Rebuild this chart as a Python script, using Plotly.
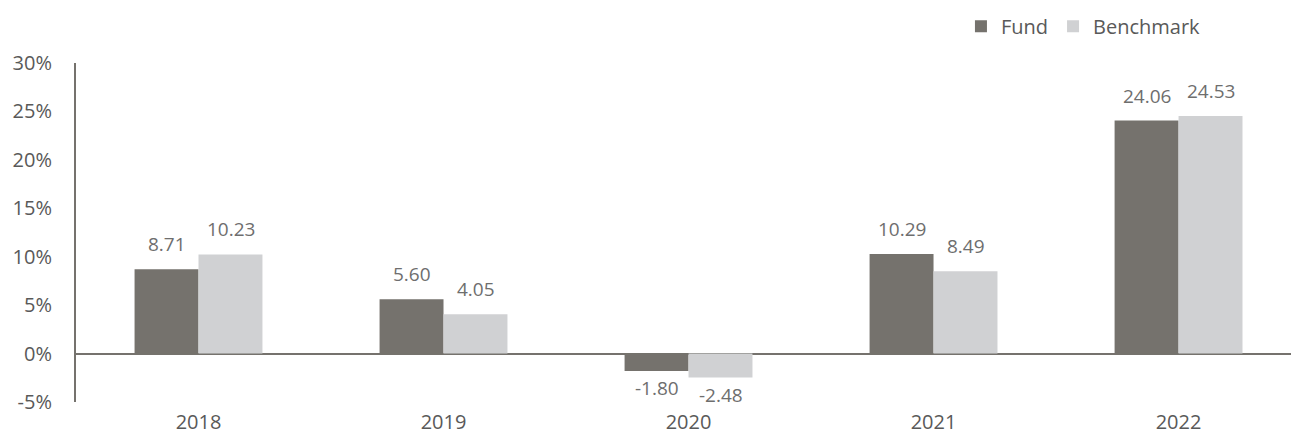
import plotly.graph_objects as go

years = ["2018", "2019", "2020", "2021", "2022"]
fund = [8.71, 5.60, -1.80, 10.29, 24.06]
benchmark = [10.23, 4.05, -2.48, 8.49, 24.53]
y_ticks = [-5, 0, 5, 10, 15, 20, 25, 30]
y_tick_labels = ["-5%", "0%", "5%", "10%", "15%", "20%", "25%", "30%"]

FUND_COLOR = "#75726d"
BENCH_COLOR = "#d0d1d3"
TEXT_COLOR = "#595959"
LABEL_COLOR = "#6e6e6e"
FONT = "Open Sans"
FS = 20

fig = go.Figure()
fig.add_trace(go.Bar(name="Fund", x=years, y=fund, marker=dict(color=FUND_COLOR, line=dict(width=0))))
fig.add_trace(go.Bar(name="Benchmark", x=years, y=benchmark, marker=dict(color=BENCH_COLOR, line=dict(width=0))))

for series, shift in ((fund, -32), (benchmark, 32)):
    for i, v in enumerate(series):
        fig.add_annotation(
            x=i, y=v, xref="x", yref="y", text=f"{v:.2f}", showarrow=False,
            xshift=shift, yshift=10 if v >= 0 else -2,
            yanchor="bottom" if v >= 0 else "top",
            font=dict(family=FONT, size=19, color=LABEL_COLOR),
        )

fig.update_layout(
    width=1291, height=436,
    margin=dict(l=76, r=0, t=63, b=34, autoexpand=False),
    paper_bgcolor="white", plot_bgcolor="white",
    barmode="group", bargap=0.478, bargroupgap=0,
    font=dict(family=FONT, size=FS, color=TEXT_COLOR),
    showlegend=True,
    legend=dict(orientation="h", x=0.93, xanchor="right", y=0.94, yref="container",
                yanchor="middle", font=dict(family=FONT, size=FS, color=TEXT_COLOR),
                itemwidth=30, traceorder="normal", bgcolor="rgba(0,0,0,0)"),
)
fig.update_xaxes(type="category", range=[-0.5, 4.459], showline=False, showgrid=False,
                 ticks="", ticklabelstandoff=6, zeroline=False, automargin=False,
                 tickfont=dict(family=FONT, size=FS, color=TEXT_COLOR))
fig.update_yaxes(range=[-5, 30], tickvals=y_ticks, ticktext=y_tick_labels,
                 showline=True, linecolor=FUND_COLOR, linewidth=2, showgrid=False,
                 zeroline=True, zerolinecolor=FUND_COLOR, zerolinewidth=2, automargin=False,
                 ticks="", ticklabelstandoff=18, layer="above traces",
                 tickfont=dict(family=FONT, size=FS, color=TEXT_COLOR))

fig.write_html("out.html", config={"displayModeBar": False},
               post_script="document.body.style.margin='0';")
